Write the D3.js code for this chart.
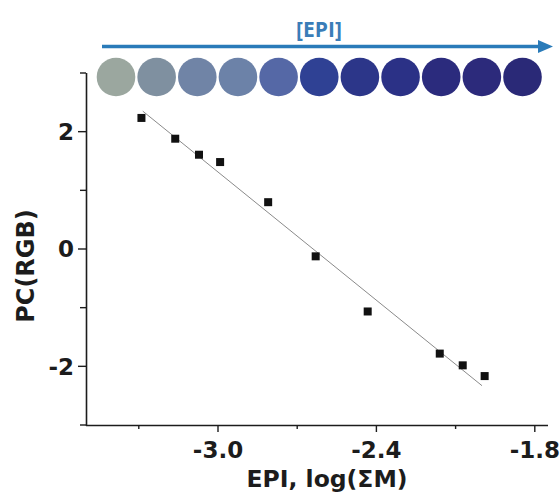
<!DOCTYPE html>
<html><head><meta charset="utf-8">
<script src="https://cdn.jsdelivr.net/npm/d3@7"></script>
<style>html,body{margin:0;padding:0;background:#fff;}svg{display:block;}</style>
</head><body>
<svg id="chart" width="560" height="493"></svg>
<script>
// Data
const xValues = [-3.29, -3.162, -3.072, -2.992, -2.81, -2.63, -2.433, -2.16, -2.073, -1.99];
const yValues = [2.234, 1.88, 1.607, 1.482, 0.798, -0.125, -1.065, -1.783, -1.983, -2.166];
const fitX = [-3.285, -2.0];
const fitY = [2.35, -2.33];
const xTicks = [-3.3, -3.0, -2.7, -2.4, -2.1, -1.8];
const xTickLabels = ["", "-3.0", "", "-2.4", "", "-1.8"];
const yTicks = [-3, -2, -1, 0, 1, 2, 3];
const yTickLabels = ["", "-2", "", "0", "", "2", ""];
const swatchColors = ["#9ba79f", "#7f90a0", "#7084a6", "#6c82a8", "#5568a6", "#2f4194", "#2c3689", "#2b3186", "#2b2b7d", "#2c2a7b", "#2a2977"];
const xLabel = "EPI, log(\u03A3M)";
const yLabel = "PC(RGB)";
const arrowLabel = "[EPI]";

const svg = d3.select("#chart");
const font = "'DejaVu Sans', sans-serif";
const ink = "#1c1c1c";

const x = d3.scaleLinear().domain([-3.5, -1.75]).range([86, 548]);
const y = d3.scaleLinear().domain([-3, 3]).range([425, 73]);

// Arrow + label
const arrowColor = "#2a7bb9";
svg.append("line").attr("x1", 102).attr("x2", 542).attr("y1", 46.5).attr("y2", 46.5)
  .attr("stroke", arrowColor).attr("stroke-width", 3.5);
svg.append("path").attr("d", "M538,40 L553,46.5 L538,53 Z").attr("fill", arrowColor);
svg.append("text").attr("x", 319).attr("y", 37).attr("text-anchor", "middle")
  .attr("font-family", "'Open Sans', sans-serif").attr("font-weight", "bold").attr("font-size", 21)
  .attr("fill", "#3a7db8").text(arrowLabel);

// Color swatches
const sx = d3.scalePoint().domain(d3.range(swatchColors.length)).range([116, 522.5]);
svg.append("g").selectAll("circle").data(swatchColors).join("circle")
  .attr("cx", (d, i) => sx(i)).attr("cy", 77).attr("r", 19.3).attr("fill", d => d);

// Axes
svg.append("line").attr("x1", x.range()[0]).attr("x2", x.range()[1]).attr("y1", 425.5).attr("y2", 425.5)
  .attr("stroke", ink).attr("stroke-width", 1.6);
svg.append("line").attr("x1", 86.5).attr("x2", 86.5).attr("y1", y.range()[1]).attr("y2", 426)
  .attr("stroke", ink).attr("stroke-width", 1.6);

const gx = svg.append("g");
gx.selectAll("line").data(xTicks).join("line")
  .attr("x1", d => x(d)).attr("x2", d => x(d)).attr("y1", 425)
  .attr("y2", (d, i) => xTickLabels[i] ? 432 : 429)
  .attr("stroke", ink).attr("stroke-width", 1.4);
gx.selectAll("text").data(xTicks).join("text")
  .attr("x", d => x(d)).attr("y", 458).attr("text-anchor", "middle")
  .attr("font-family", font).attr("font-weight", "bold").attr("font-size", 23).attr("fill", ink)
  .text((d, i) => xTickLabels[i]);

const gy = svg.append("g");
gy.selectAll("line").data(yTicks).join("line")
  .attr("y1", d => y(d)).attr("y2", d => y(d)).attr("x1", 86)
  .attr("x2", (d, i) => yTickLabels[i] ? 78 : 80)
  .attr("stroke", ink).attr("stroke-width", 1.4);
gy.selectAll("text").data(yTicks).join("text")
  .attr("x", 74).attr("y", d => y(d)).attr("dy", "0.36em").attr("text-anchor", "end")
  .attr("font-family", font).attr("font-weight", "bold").attr("font-size", 23).attr("fill", ink)
  .text((d, i) => yTickLabels[i]);

// Axis titles
svg.append("text").attr("x", 327).attr("y", 487).attr("text-anchor", "middle")
  .attr("font-family", font).attr("font-weight", "bold").attr("font-size", 23.5).attr("fill", ink)
  .text(xLabel);
svg.append("text").attr("transform", "translate(34,266) rotate(-90)").attr("text-anchor", "middle")
  .attr("font-family", font).attr("font-weight", "bold").attr("font-size", 24).attr("fill", ink)
  .text(yLabel);

// Fit line
const fitData = fitX.map((v, i) => [v, fitY[i]]);
svg.append("path").datum(fitData)
  .attr("d", d3.line().x(d => x(d[0])).y(d => y(d[1])))
  .attr("stroke", "#8a8a8a").attr("stroke-width", 1).attr("fill", "none");

// Points
const pts = xValues.map((v, i) => [v, yValues[i]]);
const s = 8;
svg.append("g").selectAll("rect").data(pts).join("rect")
  .attr("x", d => x(d[0]) - s / 2).attr("y", d => y(d[1]) - s / 2)
  .attr("width", s).attr("height", s).attr("fill", "#111");
</script>
</body></html>
